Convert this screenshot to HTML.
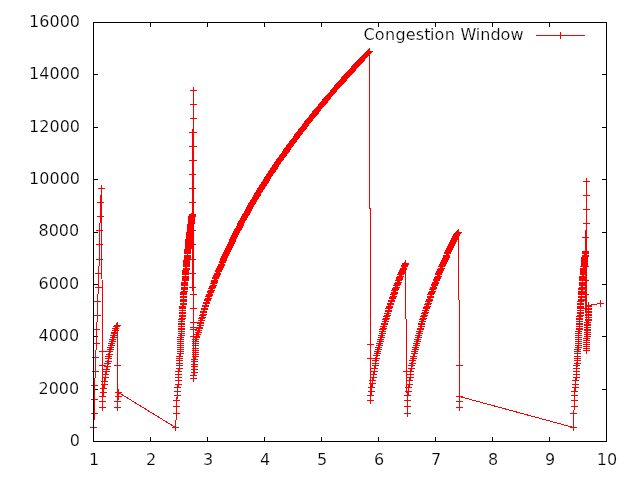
<!DOCTYPE html>
<html><head><meta charset="utf-8"><title>Congestion Window</title>
<style>
html,body{margin:0;padding:0;background:#fff}
body{width:640px;height:480px;overflow:hidden}
svg{display:block}
text{font-family:"DejaVu Sans","Liberation Sans",sans-serif;font-size:16px;fill:#000;stroke:#fff;stroke-width:.2px;paint-order:fill stroke}
</style></head><body>
<svg width="640" height="480" viewBox="0 0 640 480">
<rect width="640" height="480" fill="#fff"/>
<path d="M94 441.5h4M602 441.5h4M94 389.5h4M602 389.5h4M94 336.5h4M602 336.5h4M94 284.5h4M602 284.5h4M94 232.5h4M602 232.5h4M94 179.5h4M602 179.5h4M94 127.5h4M602 127.5h4M94 74.5h4M602 74.5h4M94 22.5h4M602 22.5h4M93.5 437v4M93.5 23v4M150.5 437v4M150.5 23v4M207.5 437v4M207.5 23v4M264.5 437v4M264.5 23v4M321.5 437v4M321.5 23v4M378.5 437v4M378.5 23v4M435.5 437v4M435.5 23v4M492.5 437v4M492.5 23v4M549.5 437v4M549.5 23v4M606.5 437v4M606.5 23v4" fill="none" stroke="#000" stroke-width="1" shape-rendering="crispEdges"/>
<g fill="none" stroke="#f00" stroke-width="1" shape-rendering="crispEdges">
<path d="M93.5 427.5L94.5 413.5L94.5 399.5L94.5 385.5L95.5 371.5L95.5 357.5L96.5 343.5L96.5 329.5L97.5 315.5L97.5 301.5L98.5 287.5L98.5 273.5L99.5 259.5L99.5 244.5L99.5 230.5L100.5 216.5L100.5 202.5L101.5 188.5L102.5 365.5L102.5 351.5L102.5 407.5L102.5 401.5L102.5 396.5L103.5 392.5L103.5 388.5L104.5 384.5L104.5 381.5L105.5 377.5L105.5 374.5L106.5 371.5L106.5 369.5L107.5 366.5L107.5 363.5L108.5 361.5L108.5 358.5L108.5 356.5L109.5 354.5L109.5 351.5L110.5 349.5L110.5 347.5L111.5 345.5L111.5 343.5L112.5 341.5L112.5 339.5L113.5 337.5L113.5 335.5L114.5 333.5L114.5 332.5L115.5 330.5L115.5 328.5L116.5 326.5L117.5 325.5L117.5 365.5L117.5 407.5L117.5 401.5L118.5 396.5L118.5 392.5L175.5 427.5L176.5 413.5L176.5 406.5L176.5 400.5L177.5 395.5L177.5 391.5L177.5 387.5L178.5 384.5L178.5 380.5L178.5 377.5L178.5 374.5L178.5 371.5L179.5 368.5L179.5 365.5L179.5 363.5L179.5 360.5L179.5 358.5L179.5 356.5L180.5 353.5L180.5 351.5L180.5 349.5L180.5 347.5L180.5 345.5L180.5 343.5L180.5 341.5L180.5 339.5L180.5 337.5L181.5 335.5L181.5 333.5L181.5 331.5L181.5 329.5L181.5 328.5L181.5 326.5L181.5 324.5L181.5 323.5L181.5 321.5L181.5 319.5L182.5 318.5L182.5 316.5L182.5 315.5L182.5 313.5L182.5 312.5L182.5 310.5L182.5 308.5L182.5 307.5L182.5 306.5L183.5 304.5L183.5 303.5L183.5 301.5L183.5 300.5L183.5 299.5L183.5 297.5L183.5 296.5L183.5 294.5L183.5 293.5L183.5 292.5L184.5 291.5L184.5 289.5L184.5 288.5L184.5 287.5L184.5 285.5L184.5 284.5L184.5 283.5L184.5 282.5L185.5 280.5L185.5 279.5L185.5 278.5L185.5 277.5L185.5 276.5L185.5 274.5L185.5 273.5L185.5 272.5L185.5 271.5L185.5 270.5L186.5 269.5L186.5 268.5L186.5 266.5L186.5 265.5L186.5 264.5L186.5 263.5L186.5 262.5L186.5 261.5L186.5 260.5L187.5 259.5L187.5 258.5L187.5 257.5L187.5 256.5L187.5 255.5L187.5 253.5L187.5 252.5L187.5 251.5L187.5 250.5L187.5 249.5L188.5 248.5L188.5 247.5L188.5 246.5L188.5 245.5L188.5 244.5L188.5 243.5L188.5 242.5L188.5 241.5L188.5 240.5L188.5 239.5L189.5 238.5L189.5 237.5L189.5 236.5L189.5 235.5L189.5 234.5L189.5 233.5L189.5 232.5L190.5 231.5L190.5 230.5L190.5 229.5L190.5 228.5L190.5 227.5L190.5 226.5L190.5 225.5L190.5 224.5L191.5 223.5L191.5 222.5L191.5 221.5L191.5 220.5L191.5 219.5L191.5 218.5L191.5 217.5L191.5 216.5L192.5 215.5L192.5 214.5L192.5 287.5L192.5 273.5L192.5 259.5L192.5 244.5L192.5 230.5L192.5 216.5L192.5 202.5L192.5 188.5L192.5 174.5L192.5 160.5L192.5 146.5L192.5 132.5L193.5 160.5L193.5 146.5L193.5 132.5L193.5 118.5L193.5 104.5L193.5 90.5L193.5 294.5L193.5 308.5L193.5 322.5L193.5 327.5L193.5 329.5L193.5 336.5L193.5 378.5L193.5 375.5L194.5 372.5L194.5 369.5L194.5 366.5L194.5 364.5L194.5 361.5L194.5 359.5L195.5 356.5L195.5 354.5L195.5 352.5L195.5 350.5L195.5 348.5L195.5 345.5L195.5 343.5L195.5 341.5L195.5 339.5L196.5 337.5L196.5 336.5L197.5 334.5L198.5 332.5L198.5 330.5L199.5 328.5L199.5 327.5L200.5 325.5L200.5 323.5L200.5 322.5L201.5 320.5L201.5 318.5L202.5 317.5L202.5 315.5L203.5 314.5L203.5 312.5L203.5 311.5L204.5 309.5L204.5 308.5L205.5 306.5L205.5 305.5L206.5 303.5L206.5 302.5L207.5 300.5L207.5 299.5L208.5 298.5L208.5 296.5L209.5 295.5L209.5 294.5L210.5 292.5L210.5 291.5L211.5 290.5L211.5 288.5L212.5 287.5L212.5 286.5L213.5 285.5L213.5 283.5L214.5 282.5L214.5 281.5L214.5 280.5L215.5 278.5L215.5 277.5L216.5 276.5L216.5 275.5L217.5 274.5L217.5 273.5L218.5 271.5L218.5 270.5L219.5 269.5L219.5 268.5L220.5 267.5L220.5 266.5L221.5 265.5L221.5 264.5L222.5 262.5L222.5 261.5L223.5 260.5L223.5 259.5L223.5 258.5L224.5 257.5L224.5 256.5L225.5 255.5L225.5 254.5L226.5 253.5L226.5 252.5L227.5 251.5L227.5 250.5L228.5 249.5L228.5 248.5L229.5 247.5L229.5 246.5L230.5 245.5L230.5 244.5L231.5 243.5L231.5 242.5L232.5 241.5L232.5 240.5L232.5 239.5L233.5 238.5L233.5 237.5L234.5 236.5L234.5 235.5L235.5 234.5L235.5 233.5L236.5 232.5L236.5 231.5L237.5 230.5L237.5 229.5L238.5 229.5L238.5 228.5L239.5 227.5L239.5 226.5L240.5 225.5L240.5 224.5L240.5 223.5L241.5 222.5L241.5 221.5L242.5 220.5L243.5 219.5L243.5 218.5L244.5 217.5L244.5 216.5L245.5 215.5L245.5 214.5L246.5 214.5L246.5 213.5L247.5 212.5L247.5 211.5L248.5 210.5L248.5 209.5L249.5 208.5L249.5 207.5L250.5 206.5L250.5 205.5L251.5 204.5L251.5 203.5L252.5 203.5L252.5 202.5L253.5 201.5L253.5 200.5L254.5 199.5L255.5 198.5L255.5 197.5L256.5 196.5L256.5 195.5L257.5 195.5L257.5 194.5L257.5 193.5L258.5 192.5L259.5 191.5L259.5 190.5L260.5 189.5L260.5 188.5L261.5 188.5L261.5 187.5L262.5 186.5L262.5 185.5L263.5 185.5L263.5 184.5L264.5 183.5L264.5 182.5L265.5 182.5L265.5 181.5L266.5 180.5L266.5 179.5L267.5 178.5L267.5 177.5L268.5 176.5L269.5 175.5L269.5 174.5L270.5 173.5L271.5 172.5L271.5 171.5L272.5 171.5L272.5 170.5L273.5 169.5L273.5 168.5L274.5 168.5L274.5 167.5L275.5 166.5L275.5 165.5L276.5 164.5L277.5 163.5L277.5 162.5L278.5 161.5L279.5 160.5L279.5 159.5L280.5 159.5L280.5 158.5L281.5 157.5L282.5 156.5L282.5 155.5L283.5 155.5L283.5 154.5L284.5 153.5L285.5 152.5L285.5 151.5L286.5 151.5L286.5 150.5L286.5 149.5L287.5 149.5L287.5 148.5L288.5 147.5L289.5 146.5L289.5 145.5L290.5 145.5L290.5 144.5L291.5 143.5L292.5 142.5L292.5 141.5L293.5 141.5L293.5 140.5L294.5 139.5L295.5 138.5L296.5 137.5L296.5 136.5L297.5 135.5L297.5 134.5L298.5 134.5L298.5 133.5L299.5 133.5L299.5 132.5L300.5 131.5L301.5 130.5L301.5 129.5L302.5 129.5L302.5 128.5L303.5 128.5L303.5 127.5L304.5 126.5L305.5 125.5L305.5 124.5L306.5 123.5L307.5 122.5L307.5 121.5L308.5 121.5L308.5 120.5L309.5 120.5L309.5 119.5L310.5 118.5L311.5 117.5L312.5 116.5L312.5 115.5L313.5 115.5L313.5 114.5L314.5 114.5L314.5 113.5L315.5 113.5L315.5 112.5L315.5 111.5L316.5 111.5L316.5 110.5L317.5 110.5L317.5 109.5L318.5 108.5L319.5 107.5L320.5 106.5L321.5 105.5L321.5 104.5L322.5 104.5L322.5 103.5L323.5 103.5L323.5 102.5L324.5 102.5L324.5 101.5L325.5 100.5L325.5 99.5L326.5 99.5L326.5 98.5L327.5 98.5L327.5 97.5L328.5 96.5L329.5 95.5L330.5 94.5L331.5 93.5L332.5 92.5L333.5 91.5L333.5 90.5L334.5 89.5L335.5 88.5L336.5 87.5L337.5 86.5L337.5 85.5L338.5 85.5L338.5 84.5L339.5 84.5L339.5 83.5L340.5 83.5L340.5 82.5L341.5 82.5L341.5 81.5L342.5 81.5L342.5 80.5L343.5 80.5L343.5 79.5L344.5 78.5L344.5 77.5L345.5 77.5L345.5 76.5L346.5 76.5L346.5 75.5L347.5 75.5L347.5 74.5L348.5 74.5L348.5 73.5L349.5 73.5L349.5 72.5L350.5 72.5L350.5 71.5L351.5 71.5L351.5 70.5L352.5 70.5L352.5 69.5L353.5 68.5L354.5 67.5L354.5 66.5L355.5 66.5L355.5 65.5L356.5 65.5L356.5 64.5L357.5 64.5L357.5 63.5L358.5 63.5L358.5 62.5L359.5 62.5L359.5 61.5L360.5 61.5L360.5 60.5L361.5 60.5L361.5 59.5L362.5 58.5L363.5 57.5L364.5 56.5L365.5 55.5L366.5 54.5L367.5 53.5L368.5 52.5L369.5 51.5L370.5 358.5L370.5 344.5L370.5 400.5L370.5 395.5L371.5 391.5L371.5 387.5L372.5 383.5L372.5 380.5L373.5 377.5L373.5 374.5L374.5 371.5L374.5 368.5L375.5 365.5L375.5 363.5L375.5 360.5L376.5 358.5L376.5 355.5L377.5 353.5L377.5 351.5L378.5 349.5L378.5 347.5L379.5 345.5L379.5 343.5L380.5 341.5L380.5 339.5L381.5 337.5L381.5 335.5L382.5 333.5L382.5 331.5L382.5 329.5L383.5 328.5L383.5 326.5L384.5 324.5L384.5 323.5L385.5 321.5L385.5 319.5L386.5 318.5L386.5 316.5L387.5 315.5L387.5 313.5L388.5 311.5L388.5 310.5L388.5 308.5L389.5 307.5L389.5 306.5L390.5 304.5L390.5 303.5L391.5 301.5L391.5 300.5L392.5 298.5L392.5 297.5L393.5 296.5L393.5 294.5L394.5 293.5L394.5 292.5L394.5 290.5L395.5 289.5L395.5 288.5L396.5 287.5L396.5 285.5L397.5 284.5L397.5 283.5L398.5 282.5L398.5 280.5L399.5 279.5L399.5 278.5L399.5 277.5L400.5 276.5L400.5 274.5L401.5 273.5L401.5 272.5L402.5 271.5L402.5 270.5L403.5 269.5L403.5 268.5L404.5 266.5L404.5 265.5L405.5 264.5L405.5 263.5L406.5 371.5L407.5 413.5L407.5 406.5L407.5 400.5L407.5 395.5L408.5 391.5L408.5 387.5L409.5 384.5L409.5 380.5L410.5 377.5L410.5 374.5L410.5 371.5L411.5 368.5L411.5 365.5L412.5 363.5L412.5 360.5L413.5 358.5L413.5 356.5L414.5 353.5L414.5 351.5L415.5 349.5L415.5 347.5L416.5 345.5L416.5 343.5L417.5 341.5L417.5 339.5L418.5 337.5L418.5 335.5L419.5 333.5L419.5 331.5L420.5 329.5L420.5 328.5L421.5 326.5L421.5 324.5L421.5 323.5L422.5 321.5L422.5 319.5L423.5 318.5L423.5 316.5L424.5 315.5L424.5 313.5L425.5 312.5L425.5 310.5L426.5 308.5L426.5 307.5L427.5 306.5L427.5 304.5L428.5 303.5L428.5 301.5L429.5 300.5L429.5 299.5L430.5 297.5L430.5 296.5L430.5 294.5L431.5 293.5L431.5 292.5L432.5 291.5L432.5 289.5L433.5 288.5L433.5 287.5L434.5 285.5L434.5 284.5L435.5 283.5L435.5 282.5L436.5 280.5L436.5 279.5L437.5 278.5L437.5 277.5L438.5 276.5L438.5 274.5L438.5 273.5L439.5 272.5L439.5 271.5L440.5 270.5L440.5 269.5L441.5 268.5L441.5 266.5L442.5 265.5L442.5 264.5L443.5 263.5L443.5 262.5L444.5 261.5L444.5 260.5L445.5 259.5L445.5 258.5L446.5 257.5L446.5 256.5L446.5 255.5L447.5 253.5L447.5 252.5L448.5 251.5L448.5 250.5L449.5 249.5L449.5 248.5L450.5 247.5L450.5 246.5L451.5 245.5L451.5 244.5L452.5 243.5L452.5 242.5L453.5 241.5L453.5 240.5L454.5 239.5L454.5 238.5L455.5 237.5L455.5 236.5L456.5 235.5L456.5 234.5L457.5 233.5L458.5 232.5L459.5 365.5L459.5 407.5L459.5 401.5L459.5 396.5L573.5 427.5L573.5 413.5L574.5 406.5L574.5 400.5L574.5 395.5L574.5 391.5L575.5 387.5L575.5 384.5L575.5 380.5L576.5 377.5L576.5 374.5L576.5 371.5L576.5 368.5L576.5 365.5L577.5 363.5L577.5 360.5L577.5 358.5L577.5 356.5L577.5 353.5L577.5 351.5L577.5 349.5L578.5 347.5L578.5 345.5L578.5 343.5L578.5 341.5L578.5 339.5L578.5 337.5L578.5 335.5L578.5 333.5L578.5 331.5L579.5 329.5L579.5 328.5L579.5 326.5L579.5 324.5L579.5 323.5L579.5 321.5L579.5 319.5L579.5 318.5L579.5 316.5L580.5 315.5L580.5 313.5L580.5 312.5L580.5 310.5L580.5 308.5L580.5 307.5L580.5 306.5L580.5 304.5L580.5 303.5L580.5 301.5L581.5 300.5L581.5 299.5L581.5 297.5L581.5 296.5L581.5 294.5L581.5 293.5L581.5 292.5L581.5 291.5L581.5 289.5L581.5 288.5L582.5 287.5L582.5 285.5L582.5 284.5L582.5 283.5L582.5 282.5L582.5 280.5L582.5 279.5L582.5 278.5L582.5 277.5L582.5 276.5L583.5 274.5L583.5 273.5L583.5 272.5L583.5 271.5L583.5 270.5L583.5 269.5L583.5 268.5L583.5 266.5L584.5 265.5L584.5 264.5L584.5 263.5L584.5 262.5L584.5 261.5L584.5 260.5L584.5 259.5L584.5 258.5L584.5 257.5L585.5 256.5L585.5 255.5L585.5 253.5L585.5 252.5L585.5 251.5L585.5 308.5L585.5 294.5L585.5 280.5L585.5 266.5L585.5 252.5L585.5 237.5L586.5 223.5L586.5 209.5L586.5 195.5L586.5 181.5L586.5 350.5L586.5 348.5L586.5 346.5L586.5 344.5L586.5 342.5L586.5 340.5L586.5 338.5L587.5 336.5L587.5 334.5L587.5 332.5L587.5 330.5L587.5 329.5L587.5 327.5L587.5 325.5L587.5 324.5L587.5 322.5L588.5 320.5L588.5 319.5L588.5 317.5L588.5 315.5L588.5 314.5L588.5 312.5L588.5 311.5L588.5 309.5L588.5 308.5L588.5 306.5L588.5 305.5L600.5 303.5"/>
<path d="M90 427.5h7M93.5 424v7M91 413.5h7M94.5 410v7M91 399.5h7M94.5 396v7M91 385.5h7M94.5 382v7M92 371.5h7M95.5 368v7M92 357.5h7M95.5 354v7M93 343.5h7M96.5 340v7M93 329.5h7M96.5 326v7M94 315.5h7M97.5 312v7M94 301.5h7M97.5 298v7M95 287.5h7M98.5 284v7M95 273.5h7M98.5 270v7M96 259.5h7M99.5 256v7M96 244.5h7M99.5 241v7M96 230.5h7M99.5 227v7M97 216.5h7M100.5 213v7M97 202.5h7M100.5 199v7M98 188.5h7M101.5 185v7M99 365.5h7M102.5 362v7M99 351.5h7M102.5 348v7M99 407.5h7M102.5 404v7M99 401.5h7M102.5 398v7M99 396.5h7M102.5 393v7M100 392.5h7M103.5 389v7M100 388.5h7M103.5 385v7M101 384.5h7M104.5 381v7M101 381.5h7M104.5 378v7M102 377.5h7M105.5 374v7M102 374.5h7M105.5 371v7M103 371.5h7M106.5 368v7M103 369.5h7M106.5 366v7M104 366.5h7M107.5 363v7M104 363.5h7M107.5 360v7M105 361.5h7M108.5 358v7M105 358.5h7M108.5 355v7M105 356.5h7M108.5 353v7M106 354.5h7M109.5 351v7M106 351.5h7M109.5 348v7M107 349.5h7M110.5 346v7M107 347.5h7M110.5 344v7M108 345.5h7M111.5 342v7M108 343.5h7M111.5 340v7M109 341.5h7M112.5 338v7M109 339.5h7M112.5 336v7M110 337.5h7M113.5 334v7M110 335.5h7M113.5 332v7M111 333.5h7M114.5 330v7M111 332.5h7M114.5 329v7M112 330.5h7M115.5 327v7M112 328.5h7M115.5 325v7M113 326.5h7M116.5 323v7M114 325.5h7M117.5 322v7M114 365.5h7M117.5 362v7M114 407.5h7M117.5 404v7M114 401.5h7M117.5 398v7M115 396.5h7M118.5 393v7M115 392.5h7M118.5 389v7M172 427.5h7M175.5 424v7M173 413.5h7M176.5 410v7M173 406.5h7M176.5 403v7M173 400.5h7M176.5 397v7M174 395.5h7M177.5 392v7M174 391.5h7M177.5 388v7M174 387.5h7M177.5 384v7M175 384.5h7M178.5 381v7M175 380.5h7M178.5 377v7M175 377.5h7M178.5 374v7M175 374.5h7M178.5 371v7M175 371.5h7M178.5 368v7M176 368.5h7M179.5 365v7M176 365.5h7M179.5 362v7M176 363.5h7M179.5 360v7M176 360.5h7M179.5 357v7M176 358.5h7M179.5 355v7M176 356.5h7M179.5 353v7M177 353.5h7M180.5 350v7M177 351.5h7M180.5 348v7M177 349.5h7M180.5 346v7M177 347.5h7M180.5 344v7M177 345.5h7M180.5 342v7M177 343.5h7M180.5 340v7M177 341.5h7M180.5 338v7M177 339.5h7M180.5 336v7M177 337.5h7M180.5 334v7M178 335.5h7M181.5 332v7M178 333.5h7M181.5 330v7M178 331.5h7M181.5 328v7M178 329.5h7M181.5 326v7M178 328.5h7M181.5 325v7M178 326.5h7M181.5 323v7M178 324.5h7M181.5 321v7M178 323.5h7M181.5 320v7M178 321.5h7M181.5 318v7M178 319.5h7M181.5 316v7M179 318.5h7M182.5 315v7M179 316.5h7M182.5 313v7M179 315.5h7M182.5 312v7M179 313.5h7M182.5 310v7M179 312.5h7M182.5 309v7M179 310.5h7M182.5 307v7M179 308.5h7M182.5 305v7M179 307.5h7M182.5 304v7M179 306.5h7M182.5 303v7M180 304.5h7M183.5 301v7M180 303.5h7M183.5 300v7M180 301.5h7M183.5 298v7M180 300.5h7M183.5 297v7M180 299.5h7M183.5 296v7M180 297.5h7M183.5 294v7M180 296.5h7M183.5 293v7M180 294.5h7M183.5 291v7M180 293.5h7M183.5 290v7M180 292.5h7M183.5 289v7M181 291.5h7M184.5 288v7M181 289.5h7M184.5 286v7M181 288.5h7M184.5 285v7M181 287.5h7M184.5 284v7M181 285.5h7M184.5 282v7M181 284.5h7M184.5 281v7M181 283.5h7M184.5 280v7M181 282.5h7M184.5 279v7M182 280.5h7M185.5 277v7M182 279.5h7M185.5 276v7M182 278.5h7M185.5 275v7M182 277.5h7M185.5 274v7M182 276.5h7M185.5 273v7M182 274.5h7M185.5 271v7M182 273.5h7M185.5 270v7M182 272.5h7M185.5 269v7M182 271.5h7M185.5 268v7M182 270.5h7M185.5 267v7M183 269.5h7M186.5 266v7M183 268.5h7M186.5 265v7M183 266.5h7M186.5 263v7M183 265.5h7M186.5 262v7M183 264.5h7M186.5 261v7M183 263.5h7M186.5 260v7M183 262.5h7M186.5 259v7M183 261.5h7M186.5 258v7M183 260.5h7M186.5 257v7M184 259.5h7M187.5 256v7M184 258.5h7M187.5 255v7M184 257.5h7M187.5 254v7M184 256.5h7M187.5 253v7M184 255.5h7M187.5 252v7M184 253.5h7M187.5 250v7M184 252.5h7M187.5 249v7M184 251.5h7M187.5 248v7M184 250.5h7M187.5 247v7M184 249.5h7M187.5 246v7M185 248.5h7M188.5 245v7M185 247.5h7M188.5 244v7M185 246.5h7M188.5 243v7M185 245.5h7M188.5 242v7M185 244.5h7M188.5 241v7M185 243.5h7M188.5 240v7M185 242.5h7M188.5 239v7M185 241.5h7M188.5 238v7M185 240.5h7M188.5 237v7M185 239.5h7M188.5 236v7M186 238.5h7M189.5 235v7M186 237.5h7M189.5 234v7M186 236.5h7M189.5 233v7M186 235.5h7M189.5 232v7M186 234.5h7M189.5 231v7M186 233.5h7M189.5 230v7M186 232.5h7M189.5 229v7M187 231.5h7M190.5 228v7M187 230.5h7M190.5 227v7M187 229.5h7M190.5 226v7M187 228.5h7M190.5 225v7M187 227.5h7M190.5 224v7M187 226.5h7M190.5 223v7M187 225.5h7M190.5 222v7M187 224.5h7M190.5 221v7M188 223.5h7M191.5 220v7M188 222.5h7M191.5 219v7M188 221.5h7M191.5 218v7M188 220.5h7M191.5 217v7M188 219.5h7M191.5 216v7M188 218.5h7M191.5 215v7M188 217.5h7M191.5 214v7M188 216.5h7M191.5 213v7M189 215.5h7M192.5 212v7M189 214.5h7M192.5 211v7M189 287.5h7M192.5 284v7M189 273.5h7M192.5 270v7M189 259.5h7M192.5 256v7M189 244.5h7M192.5 241v7M189 230.5h7M192.5 227v7M189 216.5h7M192.5 213v7M189 202.5h7M192.5 199v7M189 188.5h7M192.5 185v7M189 174.5h7M192.5 171v7M189 160.5h7M192.5 157v7M189 146.5h7M192.5 143v7M189 132.5h7M192.5 129v7M190 160.5h7M193.5 157v7M190 146.5h7M193.5 143v7M190 132.5h7M193.5 129v7M190 118.5h7M193.5 115v7M190 104.5h7M193.5 101v7M190 90.5h7M193.5 87v7M190 294.5h7M193.5 291v7M190 308.5h7M193.5 305v7M190 322.5h7M193.5 319v7M190 327.5h7M193.5 324v7M190 329.5h7M193.5 326v7M190 336.5h7M193.5 333v7M190 378.5h7M193.5 375v7M190 375.5h7M193.5 372v7M191 372.5h7M194.5 369v7M191 369.5h7M194.5 366v7M191 366.5h7M194.5 363v7M191 364.5h7M194.5 361v7M191 361.5h7M194.5 358v7M191 359.5h7M194.5 356v7M192 356.5h7M195.5 353v7M192 354.5h7M195.5 351v7M192 352.5h7M195.5 349v7M192 350.5h7M195.5 347v7M192 348.5h7M195.5 345v7M192 345.5h7M195.5 342v7M192 343.5h7M195.5 340v7M192 341.5h7M195.5 338v7M192 339.5h7M195.5 336v7M193 337.5h7M196.5 334v7M193 336.5h7M196.5 333v7M194 334.5h7M197.5 331v7M195 332.5h7M198.5 329v7M195 330.5h7M198.5 327v7M196 328.5h7M199.5 325v7M196 327.5h7M199.5 324v7M197 325.5h7M200.5 322v7M197 323.5h7M200.5 320v7M197 322.5h7M200.5 319v7M198 320.5h7M201.5 317v7M198 318.5h7M201.5 315v7M199 317.5h7M202.5 314v7M199 315.5h7M202.5 312v7M200 314.5h7M203.5 311v7M200 312.5h7M203.5 309v7M200 311.5h7M203.5 308v7M201 309.5h7M204.5 306v7M201 308.5h7M204.5 305v7M202 306.5h7M205.5 303v7M202 305.5h7M205.5 302v7M203 303.5h7M206.5 300v7M203 302.5h7M206.5 299v7M204 300.5h7M207.5 297v7M204 299.5h7M207.5 296v7M205 298.5h7M208.5 295v7M205 296.5h7M208.5 293v7M206 295.5h7M209.5 292v7M206 294.5h7M209.5 291v7M207 292.5h7M210.5 289v7M207 291.5h7M210.5 288v7M208 290.5h7M211.5 287v7M208 288.5h7M211.5 285v7M209 287.5h7M212.5 284v7M209 286.5h7M212.5 283v7M210 285.5h7M213.5 282v7M210 283.5h7M213.5 280v7M211 282.5h7M214.5 279v7M211 281.5h7M214.5 278v7M211 280.5h7M214.5 277v7M212 278.5h7M215.5 275v7M212 277.5h7M215.5 274v7M213 276.5h7M216.5 273v7M213 275.5h7M216.5 272v7M214 274.5h7M217.5 271v7M214 273.5h7M217.5 270v7M215 271.5h7M218.5 268v7M215 270.5h7M218.5 267v7M216 269.5h7M219.5 266v7M216 268.5h7M219.5 265v7M217 267.5h7M220.5 264v7M217 266.5h7M220.5 263v7M218 265.5h7M221.5 262v7M218 264.5h7M221.5 261v7M219 262.5h7M222.5 259v7M219 261.5h7M222.5 258v7M220 260.5h7M223.5 257v7M220 259.5h7M223.5 256v7M220 258.5h7M223.5 255v7M221 257.5h7M224.5 254v7M221 256.5h7M224.5 253v7M222 255.5h7M225.5 252v7M222 254.5h7M225.5 251v7M223 253.5h7M226.5 250v7M223 252.5h7M226.5 249v7M224 251.5h7M227.5 248v7M224 250.5h7M227.5 247v7M225 249.5h7M228.5 246v7M225 248.5h7M228.5 245v7M226 247.5h7M229.5 244v7M226 246.5h7M229.5 243v7M227 245.5h7M230.5 242v7M227 244.5h7M230.5 241v7M228 243.5h7M231.5 240v7M228 242.5h7M231.5 239v7M229 241.5h7M232.5 238v7M229 240.5h7M232.5 237v7M229 239.5h7M232.5 236v7M230 238.5h7M233.5 235v7M230 237.5h7M233.5 234v7M231 236.5h7M234.5 233v7M231 235.5h7M234.5 232v7M232 234.5h7M235.5 231v7M232 233.5h7M235.5 230v7M233 232.5h7M236.5 229v7M233 231.5h7M236.5 228v7M234 230.5h7M237.5 227v7M234 229.5h7M237.5 226v7M235 229.5h7M238.5 226v7M235 228.5h7M238.5 225v7M236 227.5h7M239.5 224v7M236 226.5h7M239.5 223v7M237 225.5h7M240.5 222v7M237 224.5h7M240.5 221v7M237 223.5h7M240.5 220v7M238 222.5h7M241.5 219v7M238 221.5h7M241.5 218v7M239 220.5h7M242.5 217v7M240 219.5h7M243.5 216v7M240 218.5h7M243.5 215v7M241 217.5h7M244.5 214v7M241 216.5h7M244.5 213v7M242 215.5h7M245.5 212v7M242 214.5h7M245.5 211v7M243 214.5h7M246.5 211v7M243 213.5h7M246.5 210v7M244 212.5h7M247.5 209v7M244 211.5h7M247.5 208v7M245 210.5h7M248.5 207v7M245 209.5h7M248.5 206v7M246 208.5h7M249.5 205v7M246 207.5h7M249.5 204v7M247 206.5h7M250.5 203v7M247 205.5h7M250.5 202v7M248 204.5h7M251.5 201v7M248 203.5h7M251.5 200v7M249 203.5h7M252.5 200v7M249 202.5h7M252.5 199v7M250 201.5h7M253.5 198v7M250 200.5h7M253.5 197v7M251 199.5h7M254.5 196v7M252 198.5h7M255.5 195v7M252 197.5h7M255.5 194v7M253 196.5h7M256.5 193v7M253 195.5h7M256.5 192v7M254 195.5h7M257.5 192v7M254 194.5h7M257.5 191v7M254 193.5h7M257.5 190v7M255 192.5h7M258.5 189v7M256 191.5h7M259.5 188v7M256 190.5h7M259.5 187v7M257 189.5h7M260.5 186v7M257 188.5h7M260.5 185v7M258 188.5h7M261.5 185v7M258 187.5h7M261.5 184v7M259 186.5h7M262.5 183v7M259 185.5h7M262.5 182v7M260 185.5h7M263.5 182v7M260 184.5h7M263.5 181v7M261 183.5h7M264.5 180v7M261 182.5h7M264.5 179v7M262 182.5h7M265.5 179v7M262 181.5h7M265.5 178v7M263 180.5h7M266.5 177v7M263 179.5h7M266.5 176v7M264 178.5h7M267.5 175v7M264 177.5h7M267.5 174v7M265 176.5h7M268.5 173v7M266 175.5h7M269.5 172v7M266 174.5h7M269.5 171v7M267 173.5h7M270.5 170v7M268 172.5h7M271.5 169v7M268 171.5h7M271.5 168v7M269 171.5h7M272.5 168v7M269 170.5h7M272.5 167v7M270 169.5h7M273.5 166v7M270 168.5h7M273.5 165v7M271 168.5h7M274.5 165v7M271 167.5h7M274.5 164v7M272 166.5h7M275.5 163v7M272 165.5h7M275.5 162v7M273 164.5h7M276.5 161v7M274 163.5h7M277.5 160v7M274 162.5h7M277.5 159v7M275 161.5h7M278.5 158v7M276 160.5h7M279.5 157v7M276 159.5h7M279.5 156v7M277 159.5h7M280.5 156v7M277 158.5h7M280.5 155v7M278 157.5h7M281.5 154v7M279 156.5h7M282.5 153v7M279 155.5h7M282.5 152v7M280 155.5h7M283.5 152v7M280 154.5h7M283.5 151v7M281 153.5h7M284.5 150v7M282 152.5h7M285.5 149v7M282 151.5h7M285.5 148v7M283 151.5h7M286.5 148v7M283 150.5h7M286.5 147v7M283 149.5h7M286.5 146v7M284 149.5h7M287.5 146v7M284 148.5h7M287.5 145v7M285 147.5h7M288.5 144v7M286 146.5h7M289.5 143v7M286 145.5h7M289.5 142v7M287 145.5h7M290.5 142v7M287 144.5h7M290.5 141v7M288 143.5h7M291.5 140v7M289 142.5h7M292.5 139v7M289 141.5h7M292.5 138v7M290 141.5h7M293.5 138v7M290 140.5h7M293.5 137v7M291 139.5h7M294.5 136v7M292 138.5h7M295.5 135v7M293 137.5h7M296.5 134v7M293 136.5h7M296.5 133v7M294 135.5h7M297.5 132v7M294 134.5h7M297.5 131v7M295 134.5h7M298.5 131v7M295 133.5h7M298.5 130v7M296 133.5h7M299.5 130v7M296 132.5h7M299.5 129v7M297 131.5h7M300.5 128v7M298 130.5h7M301.5 127v7M298 129.5h7M301.5 126v7M299 129.5h7M302.5 126v7M299 128.5h7M302.5 125v7M300 128.5h7M303.5 125v7M300 127.5h7M303.5 124v7M301 126.5h7M304.5 123v7M302 125.5h7M305.5 122v7M302 124.5h7M305.5 121v7M303 123.5h7M306.5 120v7M304 122.5h7M307.5 119v7M304 121.5h7M307.5 118v7M305 121.5h7M308.5 118v7M305 120.5h7M308.5 117v7M306 120.5h7M309.5 117v7M306 119.5h7M309.5 116v7M307 118.5h7M310.5 115v7M308 117.5h7M311.5 114v7M309 116.5h7M312.5 113v7M309 115.5h7M312.5 112v7M310 115.5h7M313.5 112v7M310 114.5h7M313.5 111v7M311 114.5h7M314.5 111v7M311 113.5h7M314.5 110v7M312 113.5h7M315.5 110v7M312 112.5h7M315.5 109v7M312 111.5h7M315.5 108v7M313 111.5h7M316.5 108v7M313 110.5h7M316.5 107v7M314 110.5h7M317.5 107v7M314 109.5h7M317.5 106v7M315 108.5h7M318.5 105v7M316 107.5h7M319.5 104v7M317 106.5h7M320.5 103v7M318 105.5h7M321.5 102v7M318 104.5h7M321.5 101v7M319 104.5h7M322.5 101v7M319 103.5h7M322.5 100v7M320 103.5h7M323.5 100v7M320 102.5h7M323.5 99v7M321 102.5h7M324.5 99v7M321 101.5h7M324.5 98v7M322 100.5h7M325.5 97v7M322 99.5h7M325.5 96v7M323 99.5h7M326.5 96v7M323 98.5h7M326.5 95v7M324 98.5h7M327.5 95v7M324 97.5h7M327.5 94v7M325 96.5h7M328.5 93v7M326 95.5h7M329.5 92v7M327 94.5h7M330.5 91v7M328 93.5h7M331.5 90v7M329 92.5h7M332.5 89v7M330 91.5h7M333.5 88v7M330 90.5h7M333.5 87v7M331 89.5h7M334.5 86v7M332 88.5h7M335.5 85v7M333 87.5h7M336.5 84v7M334 86.5h7M337.5 83v7M334 85.5h7M337.5 82v7M335 85.5h7M338.5 82v7M335 84.5h7M338.5 81v7M336 84.5h7M339.5 81v7M336 83.5h7M339.5 80v7M337 83.5h7M340.5 80v7M337 82.5h7M340.5 79v7M338 82.5h7M341.5 79v7M338 81.5h7M341.5 78v7M339 81.5h7M342.5 78v7M339 80.5h7M342.5 77v7M340 80.5h7M343.5 77v7M340 79.5h7M343.5 76v7M341 78.5h7M344.5 75v7M341 77.5h7M344.5 74v7M342 77.5h7M345.5 74v7M342 76.5h7M345.5 73v7M343 76.5h7M346.5 73v7M343 75.5h7M346.5 72v7M344 75.5h7M347.5 72v7M344 74.5h7M347.5 71v7M345 74.5h7M348.5 71v7M345 73.5h7M348.5 70v7M346 73.5h7M349.5 70v7M346 72.5h7M349.5 69v7M347 72.5h7M350.5 69v7M347 71.5h7M350.5 68v7M348 71.5h7M351.5 68v7M348 70.5h7M351.5 67v7M349 70.5h7M352.5 67v7M349 69.5h7M352.5 66v7M350 68.5h7M353.5 65v7M351 67.5h7M354.5 64v7M351 66.5h7M354.5 63v7M352 66.5h7M355.5 63v7M352 65.5h7M355.5 62v7M353 65.5h7M356.5 62v7M353 64.5h7M356.5 61v7M354 64.5h7M357.5 61v7M354 63.5h7M357.5 60v7M355 63.5h7M358.5 60v7M355 62.5h7M358.5 59v7M356 62.5h7M359.5 59v7M356 61.5h7M359.5 58v7M357 61.5h7M360.5 58v7M357 60.5h7M360.5 57v7M358 60.5h7M361.5 57v7M358 59.5h7M361.5 56v7M359 58.5h7M362.5 55v7M360 57.5h7M363.5 54v7M361 56.5h7M364.5 53v7M362 55.5h7M365.5 52v7M363 54.5h7M366.5 51v7M364 53.5h7M367.5 50v7M365 52.5h7M368.5 49v7M366 51.5h7M369.5 48v7M367 358.5h7M370.5 355v7M367 344.5h7M370.5 341v7M367 400.5h7M370.5 397v7M367 395.5h7M370.5 392v7M368 391.5h7M371.5 388v7M368 387.5h7M371.5 384v7M369 383.5h7M372.5 380v7M369 380.5h7M372.5 377v7M370 377.5h7M373.5 374v7M370 374.5h7M373.5 371v7M371 371.5h7M374.5 368v7M371 368.5h7M374.5 365v7M372 365.5h7M375.5 362v7M372 363.5h7M375.5 360v7M372 360.5h7M375.5 357v7M373 358.5h7M376.5 355v7M373 355.5h7M376.5 352v7M374 353.5h7M377.5 350v7M374 351.5h7M377.5 348v7M375 349.5h7M378.5 346v7M375 347.5h7M378.5 344v7M376 345.5h7M379.5 342v7M376 343.5h7M379.5 340v7M377 341.5h7M380.5 338v7M377 339.5h7M380.5 336v7M378 337.5h7M381.5 334v7M378 335.5h7M381.5 332v7M379 333.5h7M382.5 330v7M379 331.5h7M382.5 328v7M379 329.5h7M382.5 326v7M380 328.5h7M383.5 325v7M380 326.5h7M383.5 323v7M381 324.5h7M384.5 321v7M381 323.5h7M384.5 320v7M382 321.5h7M385.5 318v7M382 319.5h7M385.5 316v7M383 318.5h7M386.5 315v7M383 316.5h7M386.5 313v7M384 315.5h7M387.5 312v7M384 313.5h7M387.5 310v7M385 311.5h7M388.5 308v7M385 310.5h7M388.5 307v7M385 308.5h7M388.5 305v7M386 307.5h7M389.5 304v7M386 306.5h7M389.5 303v7M387 304.5h7M390.5 301v7M387 303.5h7M390.5 300v7M388 301.5h7M391.5 298v7M388 300.5h7M391.5 297v7M389 298.5h7M392.5 295v7M389 297.5h7M392.5 294v7M390 296.5h7M393.5 293v7M390 294.5h7M393.5 291v7M391 293.5h7M394.5 290v7M391 292.5h7M394.5 289v7M391 290.5h7M394.5 287v7M392 289.5h7M395.5 286v7M392 288.5h7M395.5 285v7M393 287.5h7M396.5 284v7M393 285.5h7M396.5 282v7M394 284.5h7M397.5 281v7M394 283.5h7M397.5 280v7M395 282.5h7M398.5 279v7M395 280.5h7M398.5 277v7M396 279.5h7M399.5 276v7M396 278.5h7M399.5 275v7M396 277.5h7M399.5 274v7M397 276.5h7M400.5 273v7M397 274.5h7M400.5 271v7M398 273.5h7M401.5 270v7M398 272.5h7M401.5 269v7M399 271.5h7M402.5 268v7M399 270.5h7M402.5 267v7M400 269.5h7M403.5 266v7M400 268.5h7M403.5 265v7M401 266.5h7M404.5 263v7M401 265.5h7M404.5 262v7M402 264.5h7M405.5 261v7M402 263.5h7M405.5 260v7M403 371.5h7M406.5 368v7M404 413.5h7M407.5 410v7M404 406.5h7M407.5 403v7M404 400.5h7M407.5 397v7M404 395.5h7M407.5 392v7M405 391.5h7M408.5 388v7M405 387.5h7M408.5 384v7M406 384.5h7M409.5 381v7M406 380.5h7M409.5 377v7M407 377.5h7M410.5 374v7M407 374.5h7M410.5 371v7M407 371.5h7M410.5 368v7M408 368.5h7M411.5 365v7M408 365.5h7M411.5 362v7M409 363.5h7M412.5 360v7M409 360.5h7M412.5 357v7M410 358.5h7M413.5 355v7M410 356.5h7M413.5 353v7M411 353.5h7M414.5 350v7M411 351.5h7M414.5 348v7M412 349.5h7M415.5 346v7M412 347.5h7M415.5 344v7M413 345.5h7M416.5 342v7M413 343.5h7M416.5 340v7M414 341.5h7M417.5 338v7M414 339.5h7M417.5 336v7M415 337.5h7M418.5 334v7M415 335.5h7M418.5 332v7M416 333.5h7M419.5 330v7M416 331.5h7M419.5 328v7M417 329.5h7M420.5 326v7M417 328.5h7M420.5 325v7M418 326.5h7M421.5 323v7M418 324.5h7M421.5 321v7M418 323.5h7M421.5 320v7M419 321.5h7M422.5 318v7M419 319.5h7M422.5 316v7M420 318.5h7M423.5 315v7M420 316.5h7M423.5 313v7M421 315.5h7M424.5 312v7M421 313.5h7M424.5 310v7M422 312.5h7M425.5 309v7M422 310.5h7M425.5 307v7M423 308.5h7M426.5 305v7M423 307.5h7M426.5 304v7M424 306.5h7M427.5 303v7M424 304.5h7M427.5 301v7M425 303.5h7M428.5 300v7M425 301.5h7M428.5 298v7M426 300.5h7M429.5 297v7M426 299.5h7M429.5 296v7M427 297.5h7M430.5 294v7M427 296.5h7M430.5 293v7M427 294.5h7M430.5 291v7M428 293.5h7M431.5 290v7M428 292.5h7M431.5 289v7M429 291.5h7M432.5 288v7M429 289.5h7M432.5 286v7M430 288.5h7M433.5 285v7M430 287.5h7M433.5 284v7M431 285.5h7M434.5 282v7M431 284.5h7M434.5 281v7M432 283.5h7M435.5 280v7M432 282.5h7M435.5 279v7M433 280.5h7M436.5 277v7M433 279.5h7M436.5 276v7M434 278.5h7M437.5 275v7M434 277.5h7M437.5 274v7M435 276.5h7M438.5 273v7M435 274.5h7M438.5 271v7M435 273.5h7M438.5 270v7M436 272.5h7M439.5 269v7M436 271.5h7M439.5 268v7M437 270.5h7M440.5 267v7M437 269.5h7M440.5 266v7M438 268.5h7M441.5 265v7M438 266.5h7M441.5 263v7M439 265.5h7M442.5 262v7M439 264.5h7M442.5 261v7M440 263.5h7M443.5 260v7M440 262.5h7M443.5 259v7M441 261.5h7M444.5 258v7M441 260.5h7M444.5 257v7M442 259.5h7M445.5 256v7M442 258.5h7M445.5 255v7M443 257.5h7M446.5 254v7M443 256.5h7M446.5 253v7M443 255.5h7M446.5 252v7M444 253.5h7M447.5 250v7M444 252.5h7M447.5 249v7M445 251.5h7M448.5 248v7M445 250.5h7M448.5 247v7M446 249.5h7M449.5 246v7M446 248.5h7M449.5 245v7M447 247.5h7M450.5 244v7M447 246.5h7M450.5 243v7M448 245.5h7M451.5 242v7M448 244.5h7M451.5 241v7M449 243.5h7M452.5 240v7M449 242.5h7M452.5 239v7M450 241.5h7M453.5 238v7M450 240.5h7M453.5 237v7M451 239.5h7M454.5 236v7M451 238.5h7M454.5 235v7M452 237.5h7M455.5 234v7M452 236.5h7M455.5 233v7M453 235.5h7M456.5 232v7M453 234.5h7M456.5 231v7M454 233.5h7M457.5 230v7M455 232.5h7M458.5 229v7M456 365.5h7M459.5 362v7M456 407.5h7M459.5 404v7M456 401.5h7M459.5 398v7M456 396.5h7M459.5 393v7M570 427.5h7M573.5 424v7M570 413.5h7M573.5 410v7M571 406.5h7M574.5 403v7M571 400.5h7M574.5 397v7M571 395.5h7M574.5 392v7M571 391.5h7M574.5 388v7M572 387.5h7M575.5 384v7M572 384.5h7M575.5 381v7M572 380.5h7M575.5 377v7M573 377.5h7M576.5 374v7M573 374.5h7M576.5 371v7M573 371.5h7M576.5 368v7M573 368.5h7M576.5 365v7M573 365.5h7M576.5 362v7M574 363.5h7M577.5 360v7M574 360.5h7M577.5 357v7M574 358.5h7M577.5 355v7M574 356.5h7M577.5 353v7M574 353.5h7M577.5 350v7M574 351.5h7M577.5 348v7M574 349.5h7M577.5 346v7M575 347.5h7M578.5 344v7M575 345.5h7M578.5 342v7M575 343.5h7M578.5 340v7M575 341.5h7M578.5 338v7M575 339.5h7M578.5 336v7M575 337.5h7M578.5 334v7M575 335.5h7M578.5 332v7M575 333.5h7M578.5 330v7M575 331.5h7M578.5 328v7M576 329.5h7M579.5 326v7M576 328.5h7M579.5 325v7M576 326.5h7M579.5 323v7M576 324.5h7M579.5 321v7M576 323.5h7M579.5 320v7M576 321.5h7M579.5 318v7M576 319.5h7M579.5 316v7M576 318.5h7M579.5 315v7M576 316.5h7M579.5 313v7M577 315.5h7M580.5 312v7M577 313.5h7M580.5 310v7M577 312.5h7M580.5 309v7M577 310.5h7M580.5 307v7M577 308.5h7M580.5 305v7M577 307.5h7M580.5 304v7M577 306.5h7M580.5 303v7M577 304.5h7M580.5 301v7M577 303.5h7M580.5 300v7M577 301.5h7M580.5 298v7M578 300.5h7M581.5 297v7M578 299.5h7M581.5 296v7M578 297.5h7M581.5 294v7M578 296.5h7M581.5 293v7M578 294.5h7M581.5 291v7M578 293.5h7M581.5 290v7M578 292.5h7M581.5 289v7M578 291.5h7M581.5 288v7M578 289.5h7M581.5 286v7M578 288.5h7M581.5 285v7M579 287.5h7M582.5 284v7M579 285.5h7M582.5 282v7M579 284.5h7M582.5 281v7M579 283.5h7M582.5 280v7M579 282.5h7M582.5 279v7M579 280.5h7M582.5 277v7M579 279.5h7M582.5 276v7M579 278.5h7M582.5 275v7M579 277.5h7M582.5 274v7M579 276.5h7M582.5 273v7M580 274.5h7M583.5 271v7M580 273.5h7M583.5 270v7M580 272.5h7M583.5 269v7M580 271.5h7M583.5 268v7M580 270.5h7M583.5 267v7M580 269.5h7M583.5 266v7M580 268.5h7M583.5 265v7M580 266.5h7M583.5 263v7M581 265.5h7M584.5 262v7M581 264.5h7M584.5 261v7M581 263.5h7M584.5 260v7M581 262.5h7M584.5 259v7M581 261.5h7M584.5 258v7M581 260.5h7M584.5 257v7M581 259.5h7M584.5 256v7M581 258.5h7M584.5 255v7M581 257.5h7M584.5 254v7M582 256.5h7M585.5 253v7M582 255.5h7M585.5 252v7M582 253.5h7M585.5 250v7M582 252.5h7M585.5 249v7M582 251.5h7M585.5 248v7M582 308.5h7M585.5 305v7M582 294.5h7M585.5 291v7M582 280.5h7M585.5 277v7M582 266.5h7M585.5 263v7M582 237.5h7M585.5 234v7M583 223.5h7M586.5 220v7M583 209.5h7M586.5 206v7M583 195.5h7M586.5 192v7M583 181.5h7M586.5 178v7M583 350.5h7M586.5 347v7M583 348.5h7M586.5 345v7M583 346.5h7M586.5 343v7M583 344.5h7M586.5 341v7M583 342.5h7M586.5 339v7M583 340.5h7M586.5 337v7M583 338.5h7M586.5 335v7M584 336.5h7M587.5 333v7M584 334.5h7M587.5 331v7M584 332.5h7M587.5 329v7M584 330.5h7M587.5 327v7M584 329.5h7M587.5 326v7M584 327.5h7M587.5 324v7M584 325.5h7M587.5 322v7M584 324.5h7M587.5 321v7M584 322.5h7M587.5 319v7M585 320.5h7M588.5 317v7M585 319.5h7M588.5 316v7M585 317.5h7M588.5 314v7M585 315.5h7M588.5 312v7M585 314.5h7M588.5 311v7M585 312.5h7M588.5 309v7M585 311.5h7M588.5 308v7M585 309.5h7M588.5 306v7M585 308.5h7M588.5 305v7M585 306.5h7M588.5 303v7M585 305.5h7M588.5 302v7M597 303.5h7M600.5 300v7"/>
<path d="M536 35.5h49M560.5 32v7"/>
</g>
<path d="M93.5 22.5H606.5V441.5H93.5Z" fill="none" stroke="#000" stroke-width="1" shape-rendering="crispEdges"/>
<g>
<text x="80" y="445.8" text-anchor="end">0</text>
<text x="79.2" y="393.8" text-anchor="end">2000</text>
<text x="79.2" y="340.8" text-anchor="end">4000</text>
<text x="79.2" y="288.8" text-anchor="end">6000</text>
<text x="79.2" y="235.8" text-anchor="end">8000</text>
<text x="80" y="183.8" text-anchor="end">10000</text>
<text x="80" y="131.8" text-anchor="end">12000</text>
<text x="80" y="78.8" text-anchor="end">14000</text>
<text x="80" y="26.8" text-anchor="end">16000</text>
<text x="94" y="465" text-anchor="middle">1</text>
<text x="151" y="465" text-anchor="middle">2</text>
<text x="208" y="465" text-anchor="middle">3</text>
<text x="265" y="465" text-anchor="middle">4</text>
<text x="322" y="465" text-anchor="middle">5</text>
<text x="379" y="465" text-anchor="middle">6</text>
<text x="436" y="465" text-anchor="middle">7</text>
<text x="493" y="465" text-anchor="middle">8</text>
<text x="550" y="465" text-anchor="middle">9</text>
<text x="607" y="465" text-anchor="middle">10</text>
<text y="40" x="363.6 374.8 385.1 395.5 405.7 415.8 424.2 430.1 434.6 444.8 455.3 460.4">Congestion Window</text>
</g>
</svg>
</body></html>
